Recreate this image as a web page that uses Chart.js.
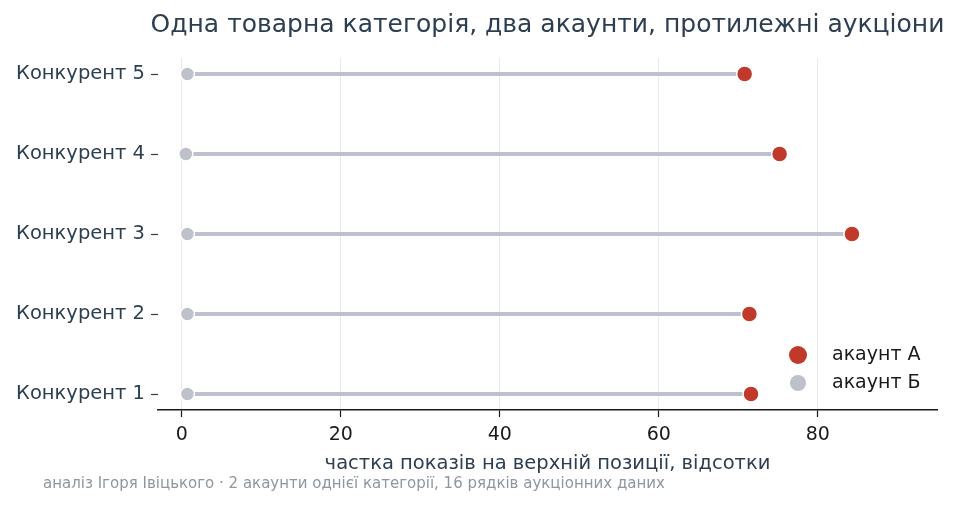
<!DOCTYPE html>
<html>
<head>
<meta charset="utf-8">
<script src="https://cdn.jsdelivr.net/npm/chart.js@4/dist/chart.umd.min.js"></script>
<style>
html,body{margin:0;padding:0;background:#fff;}
#wrap{width:960px;height:506px;position:relative;}
</style>
</head>
<body>
<div id="wrap"><canvas id="c" width="960" height="506"></canvas></div>
<script>
const categories = ["Конкурент 1", "Конкурент 2", "Конкурент 3", "Конкурент 4", "Конкурент 5"];
const accountA = [71.6, 71.4, 84.3, 75.2, 70.8];
const accountB = [0.7, 0.7, 0.7, 0.5, 0.7];
const xTicks = [0, 20, 40, 60, 80];
const seriesNames = ["акаунт А", "акаунт Б"];
const titleText = "Одна товарна категорія, два акаунти, протилежні аукціони";
const xTitle = "частка показів на верхній позиції, відсотки";
const footerText = "аналіз Ігоря Івіцького · 2 акаунти однієї категорії, 16 рядків аукціонних даних";

const RED = "#c0392b", GREY = "#bdc2ca", LINE = "#bcc1cc", DARK = "#2c3e50";
const FONT = "'DejaVu Sans', sans-serif";

const connector = [];
categories.forEach((c, i) => {
  connector.push({x: accountB[i], y: i});
  connector.push({x: accountA[i], y: i});
  connector.push({x: null, y: null});
});

const overlay = {
  id: 'overlay',
  afterDraw(chart) {
    const ctx = chart.ctx, a = chart.chartArea;
    ctx.save();
    ctx.fillStyle = DARK;
    ctx.font = "25px " + FONT;
    ctx.textAlign = "center";
    ctx.textBaseline = "middle";
    ctx.fillText(titleText, (a.left + a.right) / 2, 25);
    ctx.fillStyle = "#8e979f";
    ctx.font = "15px " + FONT;
    ctx.textAlign = "left";
    ctx.fillText(footerText, 43, 484);
    const items = [
      {label: seriesNames[0], color: RED, r: 9, y: 355},
      {label: seriesNames[1], color: GREY, r: 8, y: 383}
    ];
    items.forEach(it => {
      ctx.beginPath();
      ctx.arc(798, it.y, it.r, 0, Math.PI * 2);
      ctx.fillStyle = it.color;
      ctx.fill();
      ctx.fillStyle = "#1a1a1a";
      ctx.font = "19px " + FONT;
      ctx.textAlign = "left";
      ctx.textBaseline = "middle";
      ctx.fillText(it.label, 832, it.y);
    });
    ctx.restore();
  }
};

new Chart(document.getElementById('c'), {
  type: 'scatter',
  data: {
    datasets: [
      {
        label: 'connector',
        data: connector,
        showLine: true,
        spanGaps: false,
        borderColor: LINE,
        borderWidth: 4,
        pointRadius: 0,
        order: 3
      },
      {
        label: seriesNames[1],
        data: accountB.map((v, i) => ({x: v, y: i})),
        backgroundColor: GREY,
        borderColor: "#ffffff",
        borderWidth: 1.5,
        pointRadius: 7,
        order: 2
      },
      {
        label: seriesNames[0],
        data: accountA.map((v, i) => ({x: v, y: i})),
        backgroundColor: RED,
        borderColor: "#ffffff",
        borderWidth: 1.5,
        pointRadius: 8,
        order: 1
      }
    ]
  },
  options: {
    responsive: false,
    animation: false,
    layout: {padding: {top: 58, right: 23, bottom: 30, left: 0}},
    plugins: {
      legend: {display: false},
      tooltip: {enabled: false},
      title: {display: false}
    },
    scales: {
      x: {
        type: 'linear',
        min: -3,
        max: 95,
        afterBuildTicks(scale) { scale.ticks = xTicks.map(v => ({value: v})); },
        afterFit(scale) { scale.height = 66; },
        grid: {
          color: "#e6e9ee",
          lineWidth: 1,
          drawTicks: true,
          tickLength: 7,
          tickColor: "#1a1a1a",
          tickWidth: 1.2
        },
        border: {display: true, color: "#1a1a1a", width: 1.5},
        ticks: {color: "#1a1a1a", font: {family: FONT, size: 19}, padding: 7, maxRotation: 0},
        title: {display: true, text: xTitle, color: DARK, font: {family: FONT, size: 19.5}, padding: {top: 0, bottom: 0}}
      },
      y: {
        type: 'linear',
        min: -0.2,
        max: 4.2,
        afterBuildTicks(scale) { scale.ticks = categories.map((c, i) => ({value: i})); },
        afterFit(scale) { scale.width = 158; },
        grid: {
          drawOnChartArea: false,
          drawTicks: true,
          tickLength: 7,
          tickColor: DARK,
          tickWidth: 1.2
        },
        border: {display: false},
        ticks: {
          color: DARK,
          font: {family: FONT, size: 19.5},
          padding: 6,
          callback: (v) => categories[v]
        }
      }
    }
  },
  plugins: [overlay]
});
</script>
</body>
</html>
